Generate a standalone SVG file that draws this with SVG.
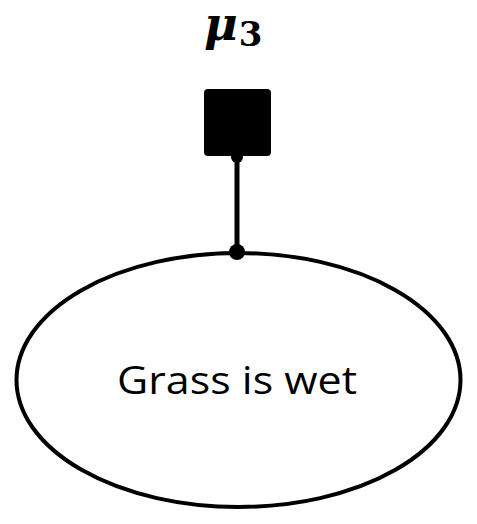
<svg xmlns="http://www.w3.org/2000/svg" width="477" height="524" viewBox="0 0 477 524">
<style>
.lbl{font-family:"Open Sans","Liberation Sans",sans-serif;font-size:38px;fill:#000}
.math{font-family:"DejaVu Serif","Liberation Serif",serif;font-weight:bold;fill:#000}
</style>
<rect width="477" height="524" fill="#fff"/>
<g id="factor-mu3">
<rect x="204" y="89" width="67" height="67" rx="4" fill="#000"/>
<text class="math" x="204" y="40" font-size="46"><tspan font-style="italic">μ</tspan><tspan font-size="34" dx="1" dy="6">3</tspan></text>
</g>
<g id="node-grass">
<ellipse cx="238.5" cy="380" rx="222" ry="127" fill="#fff" stroke="#000" stroke-width="4"/>
<text class="lbl" x="117" y="394" textLength="240" lengthAdjust="spacingAndGlyphs">Grass is wet</text>
</g>
<g id="connectors">
<line x1="237" y1="156" x2="237" y2="252" stroke="#000" stroke-width="5"/>
<circle cx="237" cy="157" r="6" fill="#000"/>
<circle cx="237" cy="252" r="8" fill="#000"/>
</g>
</svg>
